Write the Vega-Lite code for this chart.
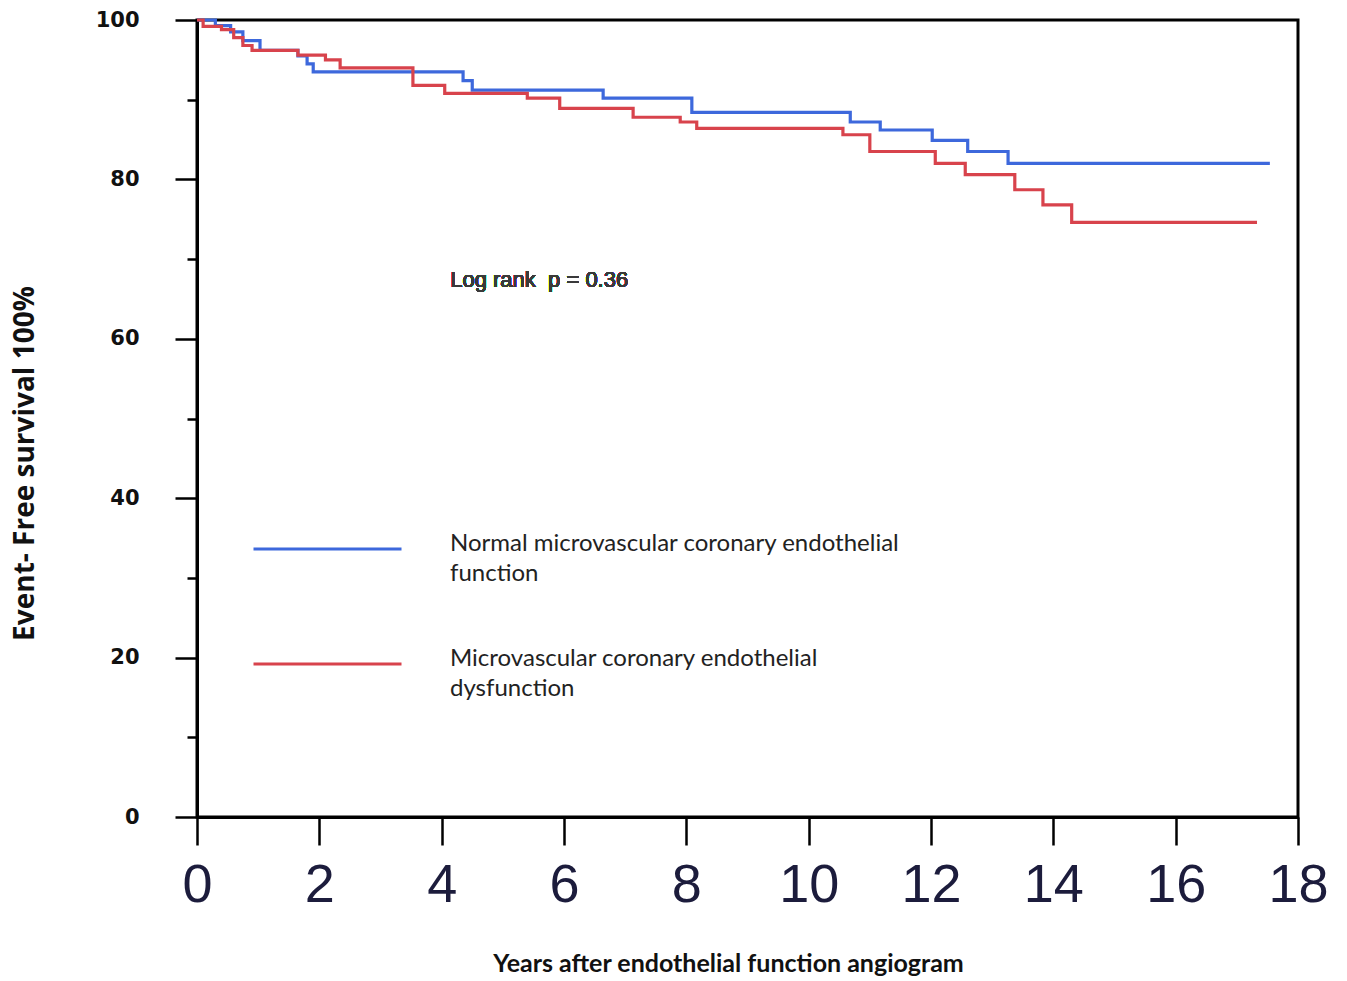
{
  "$schema": "https://vega.github.io/schema/vega-lite/v6.json",
  "width": 1101,
  "height": 797,
  "autosize": "none",
  "padding": {"left": 197, "top": 20, "right": 49, "bottom": 164},
  "background": "white",
  "config": {
    "view": {"stroke": "black", "strokeWidth": 3},
    "axis": {"grid": false, "domainColor": "black", "domainWidth": 3, "tickColor": "black", "tickWidth": 2.5}
  },
  "data": {"values": [
    {"group": "normal", "t": 0, "s": 100},
    {"group": "normal", "t": 0.3, "s": 99.3},
    {"group": "normal", "t": 0.55, "s": 98.5},
    {"group": "normal", "t": 0.75, "s": 97.4},
    {"group": "normal", "t": 1.03, "s": 96.2},
    {"group": "normal", "t": 1.65, "s": 95.5},
    {"group": "normal", "t": 1.8, "s": 94.5},
    {"group": "normal", "t": 1.9, "s": 93.5},
    {"group": "normal", "t": 4.35, "s": 92.4},
    {"group": "normal", "t": 4.5, "s": 91.2},
    {"group": "normal", "t": 6.64, "s": 90.2},
    {"group": "normal", "t": 8.09, "s": 88.4},
    {"group": "normal", "t": 10.68, "s": 87.2},
    {"group": "normal", "t": 11.17, "s": 86.2},
    {"group": "normal", "t": 12.02, "s": 84.9},
    {"group": "normal", "t": 12.6, "s": 83.5},
    {"group": "normal", "t": 13.26, "s": 82.0},
    {"group": "normal", "t": 17.54, "s": 82.0},
    {"group": "dysfunction", "t": 0, "s": 100},
    {"group": "dysfunction", "t": 0.1, "s": 99.2},
    {"group": "dysfunction", "t": 0.4, "s": 98.8},
    {"group": "dysfunction", "t": 0.6, "s": 97.8},
    {"group": "dysfunction", "t": 0.75, "s": 96.8},
    {"group": "dysfunction", "t": 0.9, "s": 96.2},
    {"group": "dysfunction", "t": 1.65, "s": 95.6},
    {"group": "dysfunction", "t": 2.1, "s": 95.0},
    {"group": "dysfunction", "t": 2.34, "s": 94.0},
    {"group": "dysfunction", "t": 3.53, "s": 91.8},
    {"group": "dysfunction", "t": 4.05, "s": 90.8},
    {"group": "dysfunction", "t": 5.4, "s": 90.2},
    {"group": "dysfunction", "t": 5.93, "s": 88.9},
    {"group": "dysfunction", "t": 7.13, "s": 87.8},
    {"group": "dysfunction", "t": 7.9, "s": 87.2},
    {"group": "dysfunction", "t": 8.17, "s": 86.4},
    {"group": "dysfunction", "t": 10.56, "s": 85.6},
    {"group": "dysfunction", "t": 11.0, "s": 83.5},
    {"group": "dysfunction", "t": 12.07, "s": 82.0},
    {"group": "dysfunction", "t": 12.56, "s": 80.6},
    {"group": "dysfunction", "t": 13.37, "s": 78.7},
    {"group": "dysfunction", "t": 13.83, "s": 76.8},
    {"group": "dysfunction", "t": 14.3, "s": 74.6},
    {"group": "dysfunction", "t": 17.33, "s": 74.6}
  ]},
  "resolve": {"axis": {"y": "independent"}},
  "layer": [
    {
      "mark": {"type": "line", "interpolate": "step-after", "strokeWidth": 3.2},
      "encoding": {
        "x": {
          "field": "t", "type": "quantitative",
          "scale": {"domain": [0, 18], "nice": false, "zero": false},
          "axis": {
            "values": [0, 2, 4, 6, 8, 10, 12, 14, 16, 18],
            "format": "d",
            "tickSize": 28,
            "labelFont": "Liberation Sans",
            "labelFontSize": 54,
            "labelColor": "#1c1c3c",
            "labelPadding": 13,
            "labelFlush": false,
            "title": "Years after endothelial function angiogram",
            "titleFont": "Lato",
            "titleFontWeight": "bold",
            "titleFontSize": 25,
            "titleColor": "#111111",
            "titleX": 531,
            "titleY": 146,
            "titleBaseline": "middle"
          }
        },
        "y": {
          "field": "s", "type": "quantitative",
          "scale": {"domain": [0, 100], "nice": false},
          "axis": {
            "orient": "left",
            "values": [0, 20, 40, 60, 80, 100],
            "tickSize": 22,
            "labelFont": "DejaVu Sans",
            "labelFontWeight": "bold",
            "labelFontSize": 21,
            "labelColor": "#111111",
            "labelPadding": 36,
            "labelFlush": false,
            "title": "Event- Free survival 100%",
            "titleFont": "Open Sans",
            "titleFontWeight": "bold",
            "titleFontSize": 28,
            "titleColor": "#111111",
            "titleX": -172,
            "titleY": 443,
            "titleAngle": -90,
            "titleBaseline": "middle"
          }
        },
        "color": {
          "field": "group", "type": "nominal",
          "scale": {"domain": ["normal", "dysfunction"], "range": ["#3d68dc", "#d8434c"]},
          "legend": {
            "orient": "none",
            "legendX": 55,
            "legendY": 514,
            "padding": 0,
            "title": null,
            "symbolType": "stroke",
            "symbolSize": 21904,
            "symbolStrokeWidth": 3,
            "clipHeight": 30,
            "rowPadding": 61,
            "labelOffset": 47,
            "labelLimit": 0,
            "labelFont": "Lato",
            "labelFontSize": 24,
            "labelColor": "#222222",
            "labelBaseline": "middle",
            "labelExpr": "datum.value == 'normal' ? ['Normal microvascular coronary endothelial', 'function'] : ['Microvascular coronary endothelial', 'dysfunction']",
            "encode": {"labels": {"update": {"dy": {"value": -5}, "lineHeight": {"value": 30}}}}
          }
        }
      }
    },
    {
      "mark": {"type": "text", "text": "Log rank\u00a0 p = 0.36", "font": "Liberation Sans", "fontWeight": "normal", "fontSize": 22, "color": "#3a3a3a", "align": "left", "baseline": "middle"},
      "encoding": {
        "x": {"datum": 4.14, "type": "quantitative"},
        "y": {
          "datum": 67.4, "type": "quantitative",
          "axis": {
            "orient": "left",
            "values": [10, 30, 50, 70, 90],
            "tickSize": 10,
            "labels": false,
            "domain": false,
            "title": null
          }
        }
      }
    }
  ]
}
